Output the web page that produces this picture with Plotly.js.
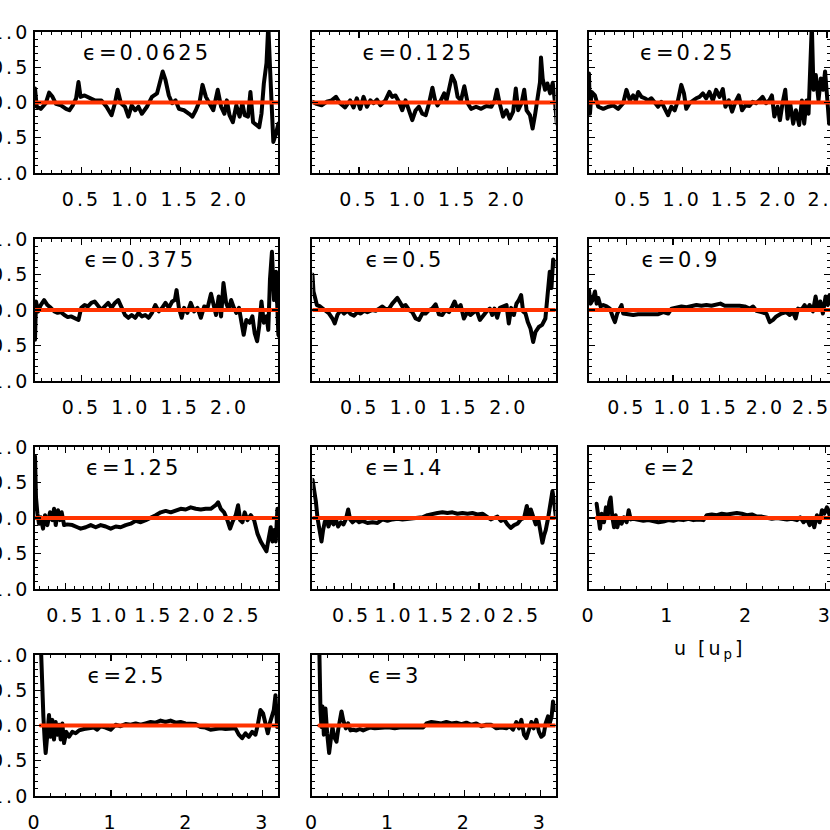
<!DOCTYPE html>
<html><head><meta charset="utf-8">
<script src="https://cdn.plot.ly/plotly-3.0.1.min.js"></script>
<style>
html,body{margin:0;padding:0;overflow:hidden;background:#fff}
#chart text{letter-spacing:3px}
#chart path.js-line{stroke-linejoin:round;stroke-linecap:round}
</style></head><body><div id="chart" style="width:830px;height:830px"></div>
<script>
// epsilon labels, one per panel
const epsLabels = ['0.0625','0.125','0.25','0.375','0.5','0.9','1.25','1.4','2','2.5','3'];

// panel 1: eps=0.0625
const u1 = [0.03,0.047,0.088,0.139,0.173,0.207,0.242,0.293,0.344,0.378,0.412,0.446,0.470,0.491,0.532,0.583,0.634,0.702,0.754,0.805,0.839,0.866,0.900,0.941,0.975,1.009,1.044,1.078,1.112,1.163,1.214,1.266,1.300,1.323,1.351,1.385,1.419,1.453,1.487,1.539,1.590,1.624,1.658,1.699,1.726,1.760,1.795,1.835,1.880,1.914,1.948,1.972,1.999,2.033,2.068,2.102,2.129,2.153,2.187,2.211,2.238,2.272,2.300,2.323,2.347,2.374,2.392,2.409,2.426,2.443,2.470,2.494,2.511];
const v1 = [0.2,-0.06,-0.09,-0.01,0.14,0.08,-0.02,-0.04,-0.09,-0.11,-0.04,0.06,0.29,0.08,0.1,0.06,0.03,0.03,-0.06,-0.18,-0.01,0.18,-0.01,-0.06,-0.2,-0.04,-0.11,-0.06,-0.16,-0.06,0.08,0.13,0.34,0.44,0.32,0.1,-0.01,0.03,-0.09,-0.11,-0.16,-0.2,-0.11,0.03,0.25,0.08,-0.01,-0.11,0.18,-0.06,-0.16,0.03,-0.18,-0.28,-0.04,-0.2,-0.01,-0.18,-0.2,0.15,-0.28,-0.32,-0.35,-0.16,0.27,0.56,1.1,0.51,-0.06,-0.56,-0.44,-0.3,-0.49];

// panel 2: eps=0.125
const u2 = [0.03,0.071,0.122,0.173,0.224,0.268,0.309,0.360,0.411,0.445,0.479,0.513,0.547,0.581,0.615,0.649,0.683,0.717,0.768,0.809,0.836,0.870,0.904,0.938,0.972,1.006,1.040,1.074,1.108,1.142,1.176,1.210,1.244,1.271,1.295,1.329,1.363,1.387,1.414,1.442,1.472,1.499,1.533,1.567,1.601,1.635,1.686,1.737,1.789,1.840,1.874,1.897,1.924,1.959,1.993,2.027,2.061,2.088,2.112,2.146,2.173,2.197,2.231,2.258,2.282,2.309,2.333,2.343,2.360,2.384,2.408,2.435,2.462,2.486,2.503,2.51];
const v2 = [0.01,-0.02,-0.04,0.01,0.03,0.08,-0.01,-0.07,0.03,-0.07,0.06,-0.09,0.08,-0.06,0.03,-0.01,0.04,-0.04,0.03,0.15,0.08,0.1,0.01,-0.11,0.03,-0.13,-0.25,-0.11,-0.06,-0.16,-0.18,-0.01,0.21,0.03,-0.04,0.03,0.13,0.03,0.18,0.38,0.29,0.08,0.03,0.23,-0.01,-0.09,-0.06,-0.09,-0.05,-0.06,0.03,0.18,-0.01,-0.2,-0.11,-0.23,-0.13,0.2,-0.11,-0.01,0.18,-0.11,-0.18,-0.37,-0.18,0.08,0.29,0.64,0.34,0.18,0.27,0.13,0.28,-0.01,-0.3,-0.11];

// panel 3: eps=0.25
const u3 = [0.036,0.046,0.063,0.098,0.132,0.184,0.235,0.287,0.338,0.390,0.424,0.459,0.493,0.521,0.545,0.579,0.613,0.648,0.682,0.716,0.751,0.785,0.820,0.854,0.888,0.923,0.957,0.991,1.019,1.043,1.077,1.112,1.146,1.180,1.215,1.249,1.283,1.318,1.352,1.387,1.421,1.448,1.483,1.517,1.552,1.586,1.620,1.655,1.696,1.730,1.765,1.799,1.833,1.868,1.902,1.929,1.954,1.988,2.012,2.039,2.067,2.091,2.118,2.149,2.177,2.211,2.239,2.263,2.287,2.308,2.321,2.342,2.359,2.383,2.411,2.435,2.459,2.479,2.503,2.521,2.541];
const v3 = [0.41,-0.16,0.15,0.1,-0.06,-0.09,-0.06,-0.04,-0.09,-0.01,0.18,0.03,0.1,0.03,0.15,0.08,0.06,0.03,0.06,0.01,-0.06,0.01,-0.09,-0.18,-0.06,-0.11,0.03,0.25,0.13,-0.09,-0.01,0.03,0.06,0.08,0.13,0.06,0.15,0.03,0.18,0.08,0.19,-0.06,0.03,-0.13,0.01,0.1,-0.11,-0.04,-0.05,0.01,-0.01,0.03,0.08,-0.01,0.03,0.1,-0.2,-0.06,-0.25,-0.01,0.18,-0.23,-0.01,-0.3,-0.11,-0.32,0.03,-0.3,0.03,-0.16,0.22,1.1,0.18,0.39,0.03,0.34,0.18,0.44,0.03,-0.3,-0.11];

// panel 4: eps=0.375
const u4 = [0.03,0.040,0.061,0.088,0.122,0.156,0.190,0.225,0.259,0.293,0.327,0.361,0.395,0.429,0.470,0.498,0.532,0.566,0.600,0.634,0.668,0.702,0.736,0.771,0.805,0.839,0.873,0.907,0.941,0.975,1.009,1.044,1.078,1.112,1.146,1.180,1.214,1.248,1.283,1.317,1.351,1.385,1.419,1.446,1.463,1.487,1.515,1.539,1.573,1.607,1.641,1.675,1.709,1.743,1.777,1.812,1.835,1.863,1.890,1.914,1.938,1.965,1.992,2.016,2.044,2.068,2.095,2.119,2.143,2.170,2.204,2.231,2.255,2.279,2.300,2.323,2.347,2.375,2.392,2.409,2.429,2.450,2.470,2.494,2.511];
const v4 = [-0.42,0.12,-0.02,0.07,0.14,0.07,0.03,-0.02,-0.04,-0.03,-0.07,-0.1,-0.09,-0.11,-0.14,0.03,0.07,0.05,0.1,0.12,0.05,0.0,0.05,0.1,0.03,0.1,0.14,0.03,-0.07,-0.11,-0.07,-0.11,-0.04,-0.09,-0.07,-0.11,-0.04,0.07,-0.02,0.03,0.1,0.03,0.12,0.14,0.28,0.03,-0.11,0.03,-0.04,0.1,-0.02,0.03,-0.11,0.05,0.03,0.23,0.07,-0.07,0.19,-0.09,0.38,0.1,0.0,0.14,0.03,-0.04,0.03,-0.14,-0.35,-0.14,-0.18,-0.09,-0.33,-0.44,-0.23,0.12,-0.18,-0.09,-0.28,0.43,0.82,0.14,0.54,-0.35,-0.39];

// panel 5: eps=0.5
const u5 = [0.025,0.035,0.048,0.069,0.102,0.142,0.192,0.226,0.249,0.276,0.310,0.343,0.377,0.410,0.443,0.477,0.510,0.544,0.577,0.628,0.661,0.695,0.728,0.762,0.795,0.828,0.855,0.879,0.905,0.929,0.962,0.996,1.029,1.063,1.096,1.130,1.163,1.197,1.230,1.264,1.297,1.331,1.364,1.398,1.431,1.455,1.481,1.515,1.548,1.582,1.615,1.649,1.675,1.709,1.742,1.776,1.809,1.833,1.856,1.883,1.910,1.943,1.977,2.000,2.024,2.051,2.077,2.101,2.124,2.144,2.168,2.191,2.218,2.245,2.268,2.301,2.335,2.368,2.392,2.412,2.429,2.446,2.459,2.469];
const v5 = [0.5,0.26,0.19,0.07,0.05,0.0,-0.05,-0.12,-0.19,-0.07,0.0,-0.05,-0.01,-0.06,-0.08,-0.03,-0.05,-0.01,-0.03,0.0,-0.01,0.02,0.05,0.01,0.02,0.09,0.14,0.17,0.11,0.05,0.07,0.0,-0.03,-0.12,-0.14,-0.05,-0.05,0.0,0.02,0.08,-0.06,-0.07,0.0,-0.03,0.05,0.12,0.02,0.07,-0.12,-0.03,-0.07,-0.02,0.0,-0.14,-0.07,-0.02,0.02,-0.07,0.02,-0.11,0.03,0.05,0.07,-0.19,0.03,-0.07,0.09,0.14,0.21,-0.02,-0.05,-0.17,-0.26,-0.45,-0.31,-0.24,-0.21,-0.12,0.21,0.54,0.31,0.71,0.68,0.64];

// panel 6: eps=0.9
const u6 = [0.09,0.108,0.130,0.155,0.173,0.191,0.216,0.245,0.281,0.317,0.346,0.371,0.396,0.425,0.443,0.461,0.515,0.569,0.623,0.677,0.731,0.785,0.840,0.894,0.948,0.984,1.038,1.092,1.146,1.200,1.254,1.308,1.362,1.416,1.470,1.513,1.560,1.614,1.668,1.722,1.776,1.831,1.867,1.903,1.957,2.011,2.047,2.083,2.119,2.173,2.227,2.263,2.299,2.328,2.353,2.389,2.425,2.450,2.479,2.515,2.544,2.569,2.595,2.623,2.652,2.677,2.695,2.72];
const v6 = [0.28,0.09,0.14,0.26,0.09,0.17,0.05,0.07,0.05,0.02,-0.09,-0.17,-0.05,0.02,0.07,-0.05,-0.06,-0.07,-0.06,-0.06,-0.05,-0.05,-0.06,-0.03,-0.05,0.02,0.03,0.05,0.04,0.06,0.07,0.06,0.07,0.06,0.08,0.09,0.06,0.06,0.07,0.06,0.05,0.02,0.05,-0.01,-0.03,-0.05,-0.17,-0.14,-0.09,-0.05,-0.03,-0.07,-0.03,-0.12,0.02,0.0,0.07,0.0,0.07,-0.02,0.19,0.02,0.12,-0.05,0.19,0.07,0.21,0.15];

// panel 7: eps=1.25
const u7 = [0.150,0.161,0.177,0.195,0.214,0.241,0.264,0.290,0.320,0.347,0.366,0.385,0.411,0.434,0.453,0.480,0.517,0.574,0.631,0.669,0.726,0.783,0.839,0.896,0.953,1.010,1.067,1.123,1.180,1.237,1.294,1.351,1.408,1.464,1.521,1.578,1.635,1.692,1.748,1.805,1.862,1.919,1.976,2.033,2.089,2.146,2.203,2.230,2.260,2.298,2.335,2.366,2.392,2.430,2.457,2.480,2.506,2.532,2.563,2.601,2.639,2.677,2.714,2.752,2.779,2.801,2.828,2.847,2.866,2.885,2.904];
const v7 = [0.87,0.29,0.06,-0.08,0.01,-0.15,0.04,-0.1,0.08,-0.03,0.13,-0.1,0.11,-0.03,0.08,-0.1,-0.09,-0.1,-0.13,-0.15,-0.13,-0.1,-0.13,-0.1,-0.12,-0.15,-0.12,-0.13,-0.1,-0.08,-0.04,-0.06,-0.03,0.0,0.04,0.08,0.1,0.08,0.11,0.13,0.12,0.15,0.13,0.12,0.13,0.13,0.18,0.22,0.13,0.08,-0.03,-0.15,-0.06,0.04,0.18,-0.03,-0.06,0.08,-0.03,0.04,-0.03,-0.22,-0.33,-0.4,-0.47,-0.31,-0.13,-0.33,-0.17,-0.33,0.13];

// panel 8: eps=1.4
const u8 = [0.04,0.060,0.079,0.099,0.118,0.146,0.165,0.185,0.209,0.228,0.256,0.287,0.315,0.342,0.373,0.405,0.432,0.460,0.483,0.511,0.550,0.589,0.628,0.687,0.746,0.805,0.864,0.922,0.981,1.040,1.099,1.158,1.216,1.275,1.334,1.393,1.452,1.511,1.569,1.628,1.687,1.746,1.805,1.864,1.922,1.981,2.040,2.099,2.138,2.177,2.216,2.256,2.295,2.334,2.373,2.413,2.452,2.491,2.530,2.562,2.589,2.609,2.640,2.667,2.695,2.718,2.746,2.766,2.785,2.813,2.836,2.864,2.883,2.903];
const v8 = [0.54,0.42,0.24,0.0,-0.12,-0.33,-0.17,-0.05,-0.02,-0.12,-0.02,-0.09,-0.02,-0.12,-0.06,-0.09,-0.02,0.12,-0.02,-0.06,-0.02,-0.06,-0.04,-0.07,-0.06,-0.07,-0.02,-0.04,-0.02,-0.01,-0.02,-0.01,-0.01,0.0,0.01,0.04,0.06,0.07,0.08,0.07,0.08,0.06,0.07,0.06,0.07,0.05,0.06,0.02,-0.02,0.0,0.02,-0.04,-0.02,-0.09,-0.14,-0.1,-0.08,-0.02,0.0,0.17,0.02,0.12,-0.02,-0.09,0.0,-0.19,-0.35,-0.24,-0.17,0.0,0.21,0.38,0.24,0.02];

// panel 9: eps=2
const u9 = [0.097,0.119,0.140,0.161,0.191,0.216,0.237,0.258,0.275,0.297,0.318,0.339,0.360,0.386,0.415,0.445,0.479,0.504,0.530,0.564,0.627,0.691,0.754,0.818,0.881,0.945,1.008,1.072,1.136,1.199,1.263,1.326,1.390,1.453,1.496,1.559,1.623,1.686,1.750,1.814,1.877,1.941,2.004,2.068,2.131,2.195,2.258,2.322,2.386,2.449,2.513,2.576,2.640,2.682,2.725,2.767,2.801,2.831,2.860,2.894,2.928,2.958,2.987,3.021,3.064,3.09];
const v9 = [0.2,-0.03,-0.15,0.06,-0.06,0.15,0.01,0.22,0.29,0.01,-0.13,0.04,-0.13,-0.01,-0.08,0.01,-0.06,0.11,-0.02,-0.01,-0.03,-0.04,-0.03,-0.05,-0.06,-0.05,-0.03,-0.04,-0.02,-0.03,-0.01,-0.03,-0.02,-0.03,0.04,0.05,0.04,0.06,0.05,0.06,0.07,0.06,0.04,0.05,0.02,0.02,0.0,-0.01,0.0,-0.01,-0.02,-0.01,-0.03,0.01,-0.06,-0.01,-0.1,-0.01,-0.13,0.04,-0.06,0.11,0.06,0.15,0.01,0.2];

// panel 10: eps=2.5
const u10 = [0.075,0.088,0.096,0.110,0.127,0.140,0.162,0.184,0.206,0.228,0.250,0.272,0.294,0.316,0.338,0.360,0.382,0.412,0.447,0.491,0.535,0.579,0.645,0.711,0.776,0.820,0.864,0.930,0.996,1.061,1.127,1.193,1.259,1.325,1.390,1.456,1.522,1.588,1.654,1.719,1.785,1.851,1.917,1.982,2.048,2.114,2.180,2.246,2.311,2.377,2.443,2.509,2.575,2.640,2.684,2.728,2.772,2.816,2.860,2.904,2.934,2.969,3.004,3.035,3.066,3.092,3.123,3.145,3.167,3.189];
const v10 = [1.2,0.74,0.27,0.13,-0.2,-0.39,-0.13,0.15,-0.16,0.08,-0.2,0.05,-0.13,0.01,-0.2,0.03,-0.25,-0.09,-0.16,-0.09,-0.11,-0.07,-0.05,-0.04,-0.03,-0.06,-0.01,-0.03,-0.06,0.01,-0.01,0.02,0.01,0.03,0.01,0.03,0.05,0.04,0.07,0.05,0.07,0.04,0.05,0.03,0.03,0.02,-0.02,-0.03,-0.06,-0.05,-0.04,-0.05,-0.04,-0.04,-0.13,-0.18,-0.11,-0.16,-0.09,-0.13,0.01,0.22,0.17,0.01,-0.11,0.03,0.13,0.22,0.43,-0.02];

// panel 11: eps=3
const u11 = [0.088,0.096,0.105,0.118,0.132,0.149,0.171,0.193,0.219,0.241,0.263,0.285,0.316,0.338,0.360,0.382,0.404,0.439,0.469,0.500,0.535,0.579,0.623,0.667,0.711,0.754,0.820,0.886,0.952,1.018,1.083,1.149,1.215,1.281,1.346,1.412,1.456,1.500,1.566,1.632,1.697,1.763,1.829,1.895,1.961,2.026,2.092,2.158,2.224,2.289,2.355,2.421,2.487,2.553,2.596,2.640,2.684,2.719,2.750,2.785,2.816,2.851,2.882,2.912,2.947,2.982,3.013,3.044,3.070,3.101,3.123,3.149,3.167,3.189];
const v11 = [1.2,0.5,0.22,-0.02,0.27,-0.13,0.24,-0.11,-0.39,-0.2,-0.02,-0.16,-0.23,-0.06,0.05,0.2,0.08,-0.04,0.03,-0.07,-0.06,-0.07,-0.05,-0.07,-0.05,-0.03,-0.04,-0.03,-0.03,-0.03,-0.04,-0.03,-0.03,-0.03,-0.02,-0.03,-0.03,0.03,0.05,0.04,0.03,0.05,0.03,0.04,0.02,0.04,0.01,0.03,-0.01,0.01,0.01,-0.04,-0.03,-0.04,-0.01,-0.06,0.05,-0.04,0.08,-0.13,-0.18,-0.06,0.05,-0.04,0.08,-0.09,-0.16,-0.13,0.03,0.13,0.03,0.13,0.34,0.22];

// x-axis ranges per panel (u in units of u_p)
const xRanges = [[0.03,2.49],[0.03,2.49],[0.036,2.53],[0.03,2.49],[0.025,2.47],[0.09,2.70],[0.15,2.91],[0.04,2.90],[0,3.06],[0,3.2],[0,3.2]];
const xDticks = [0.5,0.5,0.5,0.5,0.5,0.5,0.5,0.5,1,1,1];

const U = [u1,u2,u3,u4,u5,u6,u7,u8,u9,u10,u11];
const V = [v1,v2,v3,v4,v5,v6,v7,v8,v9,v10,v11];

const colDom = [[0.0422,0.3349],[0.3765,0.6693],[0.7096,1.0]];
const rowDom = [[0.7916,0.9614],[0.5410,0.7120],[0.2904,0.4614],[0.0410,0.2108]];
const FONT = {family:'DejaVu Sans', size:19, color:'#000'};
const AFONT = {family:'DejaVu Sans', size:21, color:'#000'};
const RED = '#ff3300';

const traces = [];
const layout = {
  width:830, height:830, autosize:false,
  margin:{l:0,r:0,t:0,b:0,pad:0},
  paper_bgcolor:'#fff', plot_bgcolor:'#fff',
  showlegend:false, font:FONT, annotations:[]
};

for (let i = 0; i < U.length; i++) {
  const n = i + 1;
  const sx = n === 1 ? '' : String(n);
  const row = Math.floor(i / 3), col = i % 3;
  const xa = 'x' + sx, ya = 'y' + sx;
  traces.push({x:U[i], y:V[i], xaxis:xa, yaxis:ya, type:'scatter', mode:'lines',
    line:{color:'#000', width:4}, hoverinfo:'skip'});
  const umin = Math.min(...U[i]), umax = Math.max(...U[i]);
  traces.push({x:[umin, umax], y:[0, 0], xaxis:xa, yaxis:ya, type:'scatter', mode:'lines',
    line:{color:RED, width:4}, hoverinfo:'skip'});
  const dt = xDticks[i];
  layout['xaxis' + sx] = {
    domain: colDom[col], range: xRanges[i], anchor: ya,
    showline:true, mirror:'ticks', linecolor:'#000', linewidth:2,
    ticks:'inside', ticklen:6, tickwidth:1.2, tickcolor:'#000',
    tick0:0, dtick:dt, tickformat: dt < 1 ? '.1f' : 'd',
    minor:{ticks:'inside', ticklen:3, tickwidth:1, tickcolor:'#000', tick0:0, dtick: dt < 1 ? 0.1 : 0.2},
    showgrid:false, zeroline:false, tickfont:FONT, ticklabelstandoff:8,
    ticklabeloverflow:'allow', fixedrange:true
  };
  layout['yaxis' + sx] = {
    domain: rowDom[row], range:[-1,1], anchor: xa,
    showline:true, mirror:'ticks', linecolor:'#000', linewidth:2,
    ticks:'inside', ticklen:6, tickwidth:1.2, tickcolor:'#000',
    tick0:0, dtick:0.5, tickformat:'.1f',
    minor:{ticks:'inside', ticklen:3, tickwidth:1, tickcolor:'#000', tick0:0, dtick:0.1},
    showgrid:false, zeroline:false, tickfont:FONT, showticklabels: col === 0,
    ticklabelstandoff:-1, ticklabeloverflow:'allow', fixedrange:true
  };
  layout.annotations.push({text:'\u03f5=' + epsLabels[i], xref:xa + ' domain', yref:ya + ' domain',
    x:0.24, y:0.852, xanchor:'left', yanchor:'middle', showarrow:false, font:AFONT});
}
// x-axis title under the bottom of the third column
layout.annotations.push({text:'u [u<sub>p</sub>]', xref:'x9 domain', yref:'y9 domain',
  x:0.5, y:-0.43, xanchor:'center', yanchor:'middle', showarrow:false, font:FONT});

Plotly.newPlot('chart', traces, layout, {staticPlot:true, displayModeBar:false});
</script></body></html>
